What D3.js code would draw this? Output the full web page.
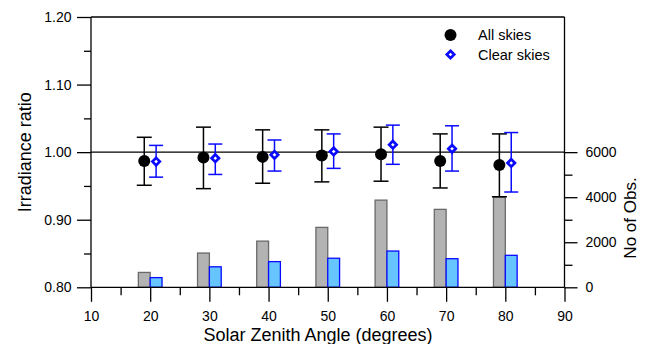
<!DOCTYPE html>
<html>
<head>
<meta charset="utf-8">
<script src="https://cdn.jsdelivr.net/npm/d3@7"></script>
<style>
  html, body { margin: 0; padding: 0; background: #fff; }
  svg { display: block; font-family: "Liberation Sans", Arial, sans-serif; }
</style>
</head>
<body>
<svg id="chart" width="648" height="344"></svg>
<script>
// Solar zenith angle bins (degrees)
const zenith = [20, 30, 40, 50, 60, 70, 80];

// Irradiance ratio, all skies: mean and error-bar limits
const allMean = [0.987, 0.992, 0.993, 0.995, 0.997, 0.987, 0.981];
const allHi   = [1.022, 1.037, 1.033, 1.033, 1.037, 1.027, 1.027];
const allLo   = [0.951, 0.946, 0.954, 0.956, 0.957, 0.947, 0.934];

// Irradiance ratio, clear skies: mean and error-bar limits
const clearMean = [0.986, 0.991, 0.996, 1.001, 1.011, 1.005, 0.984];
const clearHi   = [1.010, 1.012, 1.018, 1.027, 1.040, 1.039, 1.029];
const clearLo   = [0.963, 0.967, 0.972, 0.976, 0.982, 0.972, 0.941];

// Number of observations per bin
const allCount   = [660, 1520, 2050, 2660, 3870, 3460, 4000];
const clearCount = [430, 910, 1140, 1290, 1610, 1270, 1420];

// Axis ticks
const xTicks = [10, 20, 30, 40, 50, 60, 70, 80, 90];
const xMinorTicks = [15, 25, 35, 45, 55, 65, 75, 85];
const yTicks = [0.80, 0.90, 1.00, 1.10, 1.20];
const yMinorTicks = [0.85, 0.95, 1.05, 1.15];
const y2Ticks = [0, 2000, 4000, 6000];
const y2MinorTicks = [1000, 3000, 5000];

const svg = d3.select("#chart");

const x = d3.scaleLinear().domain([10, 90]).range([91, 564.5]);
const y = d3.scaleLinear().domain([0.80, 1.20]).range([287.3, 17]);
const y2 = d3.scaleLinear().domain([0, 6000]).range([y(0.80), y(1.00)]);

const BLUE = "#0a0aff";

// ---- bars (observation counts, right axis) ----
const bars = svg.append("g");
bars.selectAll("rect.all").data(zenith).join("rect")
  .attr("x", (d) => x(d - 2))
  .attr("width", (d) => x(d) - x(d - 2))
  .attr("y", (d, i) => y2(allCount[i]))
  .attr("height", (d, i) => y2(0) - y2(allCount[i]))
  .attr("fill", "#b3b3b3").attr("stroke", "#6a6a6a").attr("stroke-width", 1.3);
bars.selectAll("rect.clear").data(zenith).join("rect")
  .attr("x", (d) => x(d))
  .attr("width", (d) => x(d + 2) - x(d))
  .attr("y", (d, i) => y2(clearCount[i]))
  .attr("height", (d, i) => y2(0) - y2(clearCount[i]))
  .attr("fill", "#66c4ff").attr("stroke", BLUE).attr("stroke-width", 1.3);

// ---- frame lines ----
const frame = svg.append("g").attr("stroke", "#000").attr("stroke-width", 1.3);
frame.append("line").attr("x1", x(10)).attr("x2", x(90)).attr("y1", y(1.2)).attr("y2", y(1.2));
frame.append("line").attr("x1", x(10)).attr("x2", x(90)).attr("y1", y(1.0)).attr("y2", y(1.0));
frame.append("line").attr("x1", x(10)).attr("x2", x(90)).attr("y1", y(0.8)).attr("y2", y(0.8));
frame.append("line").attr("x1", x(10)).attr("x2", x(10)).attr("y1", y(1.2)).attr("y2", y(0.8));
frame.append("line").attr("x1", x(90)).attr("x2", x(90)).attr("y1", y(1.2)).attr("y2", y(0.8));

function styleAxis(g) {
  g.select(".domain").remove();
  g.selectAll(".tick line").attr("stroke", "#000").attr("stroke-width", 1.3);
  g.selectAll(".tick text").attr("fill", "#000").style("font-size", "14px")
    .style("font-family", "'Liberation Sans', Arial, sans-serif");
}

// bottom axis
svg.append("g").attr("transform", `translate(0,${y(0.8)})`)
  .call(d3.axisBottom(x).tickValues(xTicks).tickSize(14.5).tickPadding(9).tickFormat(d3.format("d")))
  .call(styleAxis);
svg.append("g").attr("transform", `translate(0,${y(0.8)})`)
  .call(d3.axisBottom(x).tickValues(xMinorTicks).tickSize(8).tickFormat(""))
  .call(styleAxis);

// left axis
svg.append("g").attr("transform", `translate(${x(10)},0)`)
  .call(d3.axisLeft(y).tickValues(yTicks).tickSize(14).tickPadding(5.5).tickFormat(d3.format(".2f")))
  .call(styleAxis);
svg.append("g").attr("transform", `translate(${x(10)},0)`)
  .call(d3.axisLeft(y).tickValues(yMinorTicks).tickSize(7).tickFormat(""))
  .call(styleAxis);

// right axis
svg.append("g").attr("transform", `translate(${x(90)},0)`)
  .call(d3.axisRight(y2).tickValues(y2Ticks).tickSize(13).tickPadding(8).tickFormat(d3.format("d")))
  .call(styleAxis);
svg.append("g").attr("transform", `translate(${x(90)},0)`)
  .call(d3.axisRight(y2).tickValues(y2MinorTicks).tickSize(8).tickFormat(""))
  .call(styleAxis);

// ---- error bars and markers ----
function errorBars(offset, lo, hi, color, cap) {
  const g = svg.append("g").attr("stroke", color).attr("stroke-width", 1.5);
  zenith.forEach((z, i) => {
    const cx = x(z + offset);
    g.append("line").attr("x1", cx).attr("x2", cx).attr("y1", y(hi[i])).attr("y2", y(lo[i]));
    g.append("line").attr("x1", cx - cap).attr("x2", cx + cap).attr("y1", y(hi[i])).attr("y2", y(hi[i]));
    g.append("line").attr("x1", cx - cap).attr("x2", cx + cap).attr("y1", y(lo[i])).attr("y2", y(lo[i]));
  });
}
errorBars(-1, allLo, allHi, "#000", 7.5);
errorBars(1, clearLo, clearHi, BLUE, 7);

const diamond = (r) => `M0,${-r}L${r},0L0,${r}L${-r},0Z`;

svg.append("g").selectAll("circle").data(zenith).join("circle")
  .attr("cx", (d) => x(d - 1)).attr("cy", (d, i) => y(allMean[i]))
  .attr("r", 6).attr("fill", "#000");

svg.append("g").selectAll("path").data(zenith).join("path")
  .attr("transform", (d, i) => `translate(${x(d + 1)},${y(clearMean[i])})`)
  .attr("d", diamond(3.7))
  .attr("fill", "#fff").attr("stroke", BLUE).attr("stroke-width", 2.7);

// ---- legend ----
const legend = svg.append("g");
legend.append("circle").attr("cx", 450.5).attr("cy", 35).attr("r", 6).attr("fill", "#000");
legend.append("path").attr("transform", "translate(450.5,54.5)").attr("d", diamond(3.7))
  .attr("fill", "#fff").attr("stroke", BLUE).attr("stroke-width", 2.7);
legend.append("text").attr("x", 478).attr("y", 40).text("All skies")
  .style("font-size", "14.5px").attr("fill", "#000");
legend.append("text").attr("x", 478).attr("y", 60).text("Clear skies")
  .style("font-size", "14.5px").attr("fill", "#000");

// ---- axis titles ----
svg.append("text").attr("x", 318).attr("y", 341).attr("text-anchor", "middle")
  .style("font-size", "18px").attr("fill", "#000")
  .text("Solar Zenith Angle (degrees)");
svg.append("text").attr("transform", `translate(31,${y(1.0)}) rotate(-90)`)
  .attr("text-anchor", "middle").style("font-size", "18px").attr("fill", "#000")
  .text("Irradiance ratio");
svg.append("text").attr("transform", `translate(636,218) rotate(-90)`)
  .attr("text-anchor", "middle").style("font-size", "17px").attr("fill", "#000")
  .text("No of Obs.");
</script>
</body>
</html>
